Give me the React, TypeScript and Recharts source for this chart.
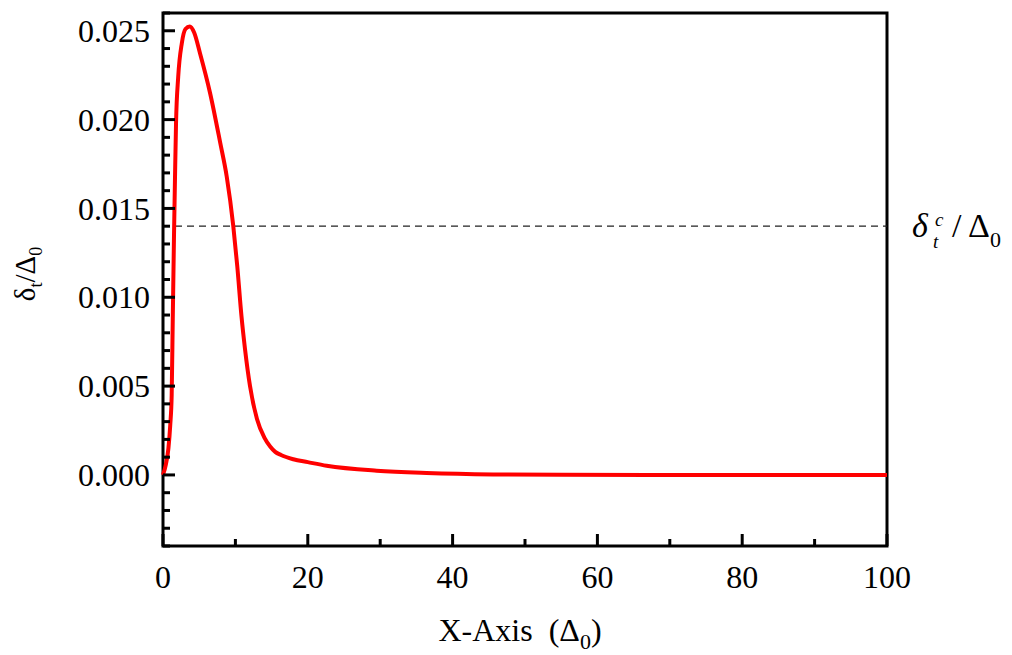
import { LineChart, Line, XAxis, YAxis, ReferenceLine, ReferenceArea } from 'recharts'

// curve
const xValues = [
  0, 0.4, 0.75, 1.0, 1.2, 1.35, 1.52, 1.66, 1.8, 2.1, 2.6, 3.1, 3.7, 4.3, 5.1, 6.5, 7.9, 8.8, 9.71,
  10.26, 10.84, 11.33, 12.02, 12.98, 14.0, 14.8, 15.5, 16.3, 18, 20, 22.6, 29.5, 36.4, 45.6, 55, 70,
  85, 100,
]
const yValues = [
  0, 0.0006, 0.0015, 0.0028, 0.0045, 0.0088, 0.0135, 0.0168, 0.0198, 0.0224, 0.0243, 0.0251, 0.02524,
  0.0249, 0.02375, 0.0215, 0.0187, 0.0168, 0.014, 0.01174, 0.00893, 0.00708, 0.005, 0.00315, 0.0021,
  0.0016, 0.0013, 0.00112, 0.00088, 0.00072, 0.00052, 0.00024, 0.00011, 0.00003, 0.00001, 0, 0, 0,
]

const xTicks = [0, 10, 20, 30, 40, 50, 60, 70, 80, 90, 100]
const xLabeled = [0, 20, 40, 60, 80, 100]
const yTicks = [
  -0.004, -0.003, -0.002, -0.001, 0, 0.001, 0.002, 0.003, 0.004, 0.005, 0.006, 0.007, 0.008, 0.009,
  0.01, 0.011, 0.012, 0.013, 0.014, 0.015, 0.016, 0.017, 0.018, 0.019, 0.02, 0.021, 0.022, 0.023,
  0.024, 0.025, 0.026,
]
const yLabeled = [0, 0.005, 0.01, 0.015, 0.02, 0.025]
const criticalValue = 0.014

const data = xValues.map((x, i) => ({ x, y: yValues[i] }))

const serif = "'Liberation Serif', 'Times New Roman', serif"

const isLabeled = (v: number, list: number[]) => list.some(l => Math.abs(l - v) < 1e-9)

function YTick({ x, y, payload }: any) {
  const major = isLabeled(payload.value, yLabeled)
  return (
    <g>
      <line x1={x} x2={x + (major ? 12 : 7)} y1={y} y2={y} stroke="#000" strokeWidth={3} />
      {major && (
        <text x={x - 13} y={y} dy="0.35em" textAnchor="end" fontSize={32} fontFamily={serif} fill="#000">
          {payload.value.toFixed(3)}
        </text>
      )}
    </g>
  )
}

function XTick({ x, y, payload }: any) {
  const major = isLabeled(payload.value, xLabeled)
  return (
    <g>
      <line x1={x} x2={x} y1={y} y2={y - (major ? 12 : 7)} stroke="#000" strokeWidth={3} />
      {major && (
        <text x={x} y={y + 42} textAnchor="middle" fontSize={32} fontFamily={serif} fill="#000">
          {payload.value}
        </text>
      )}
    </g>
  )
}

function XLabel({ viewBox }: any) {
  const cx = viewBox.x + viewBox.width / 2 - 5
  const by = viewBox.y + 95
  return (
    <text x={cx} y={by} textAnchor="middle" fontSize={32} fontFamily={serif} fill="#000">
      X-Axis{'\u00a0\u00a0'}(Δ
      <tspan fontSize={22} dy={8}>0</tspan>
      <tspan dy={-8}>)</tspan>
    </text>
  )
}

function YLabel({ viewBox }: any) {
  const cx = viewBox.x + 27
  const cy = viewBox.y + 261
  return (
    <text
      x={cx}
      y={cy}
      transform={`rotate(-90 ${cx} ${cy})`}
      textAnchor="middle"
      fontSize={29}
      fontFamily={serif}
      fill="#000"
    >
      δ
      <tspan fontSize={18} dy={7}>t</tspan>
      <tspan dy={-7}>/Δ</tspan>
      <tspan fontSize={18} dy={7}>0</tspan>
    </text>
  )
}

function CriticalLabel({ viewBox }: any) {
  const x0 = viewBox.x + viewBox.width + 25
  const by = viewBox.y + 11
  return (
    <g fontFamily={serif} fill="#000">
      <text x={x0} y={by} fontSize={34} fontStyle="italic">δ</text>
      <text x={x0 + 23} y={by - 11} fontSize={19} fontStyle="italic">c</text>
      <text x={x0 + 21} y={by + 11} fontSize={19} fontStyle="italic">t</text>
      <text x={x0 + 40} y={by} fontSize={34}>
        / Δ<tspan fontSize={22} dy={10}>0</tspan>
      </text>
    </g>
  )
}

export default function App() {
  return (
    <div style={{ width: 996, height: 647 }}>
      <LineChart width={996} height={647} data={data} margin={{ top: 5, right: 117, bottom: 0, left: 0 }}>
        <XAxis
          dataKey="x"
          type="number"
          domain={[0, 100]}
          ticks={xTicks}
          interval={0}
          axisLine={false}
          tickLine={false}
          tickSize={0}
          tickMargin={0}
          height={109}
          tick={<XTick />}
          label={<XLabel />}
        />
        <YAxis
          type="number"
          domain={[-0.004, 0.026]}
          ticks={yTicks}
          interval={0}
          axisLine={false}
          tickLine={false}
          tickSize={0}
          tickMargin={0}
          width={155}
          tick={<YTick />}
          label={<YLabel />}
        />
        <ReferenceArea x1={0} x2={100} y1={-0.004} y2={0.026} fill="none" stroke="#000" strokeWidth={3} />
        <ReferenceLine
          y={criticalValue}
          stroke="#222"
          strokeWidth={1.3}
          strokeDasharray="7 5"
          label={<CriticalLabel />}
        />
        <Line
          dataKey="y"
          type="monotone"
          stroke="#ff0000"
          strokeWidth={4}
          dot={false}
          isAnimationActive={false}
        />
      </LineChart>
    </div>
  )
}
